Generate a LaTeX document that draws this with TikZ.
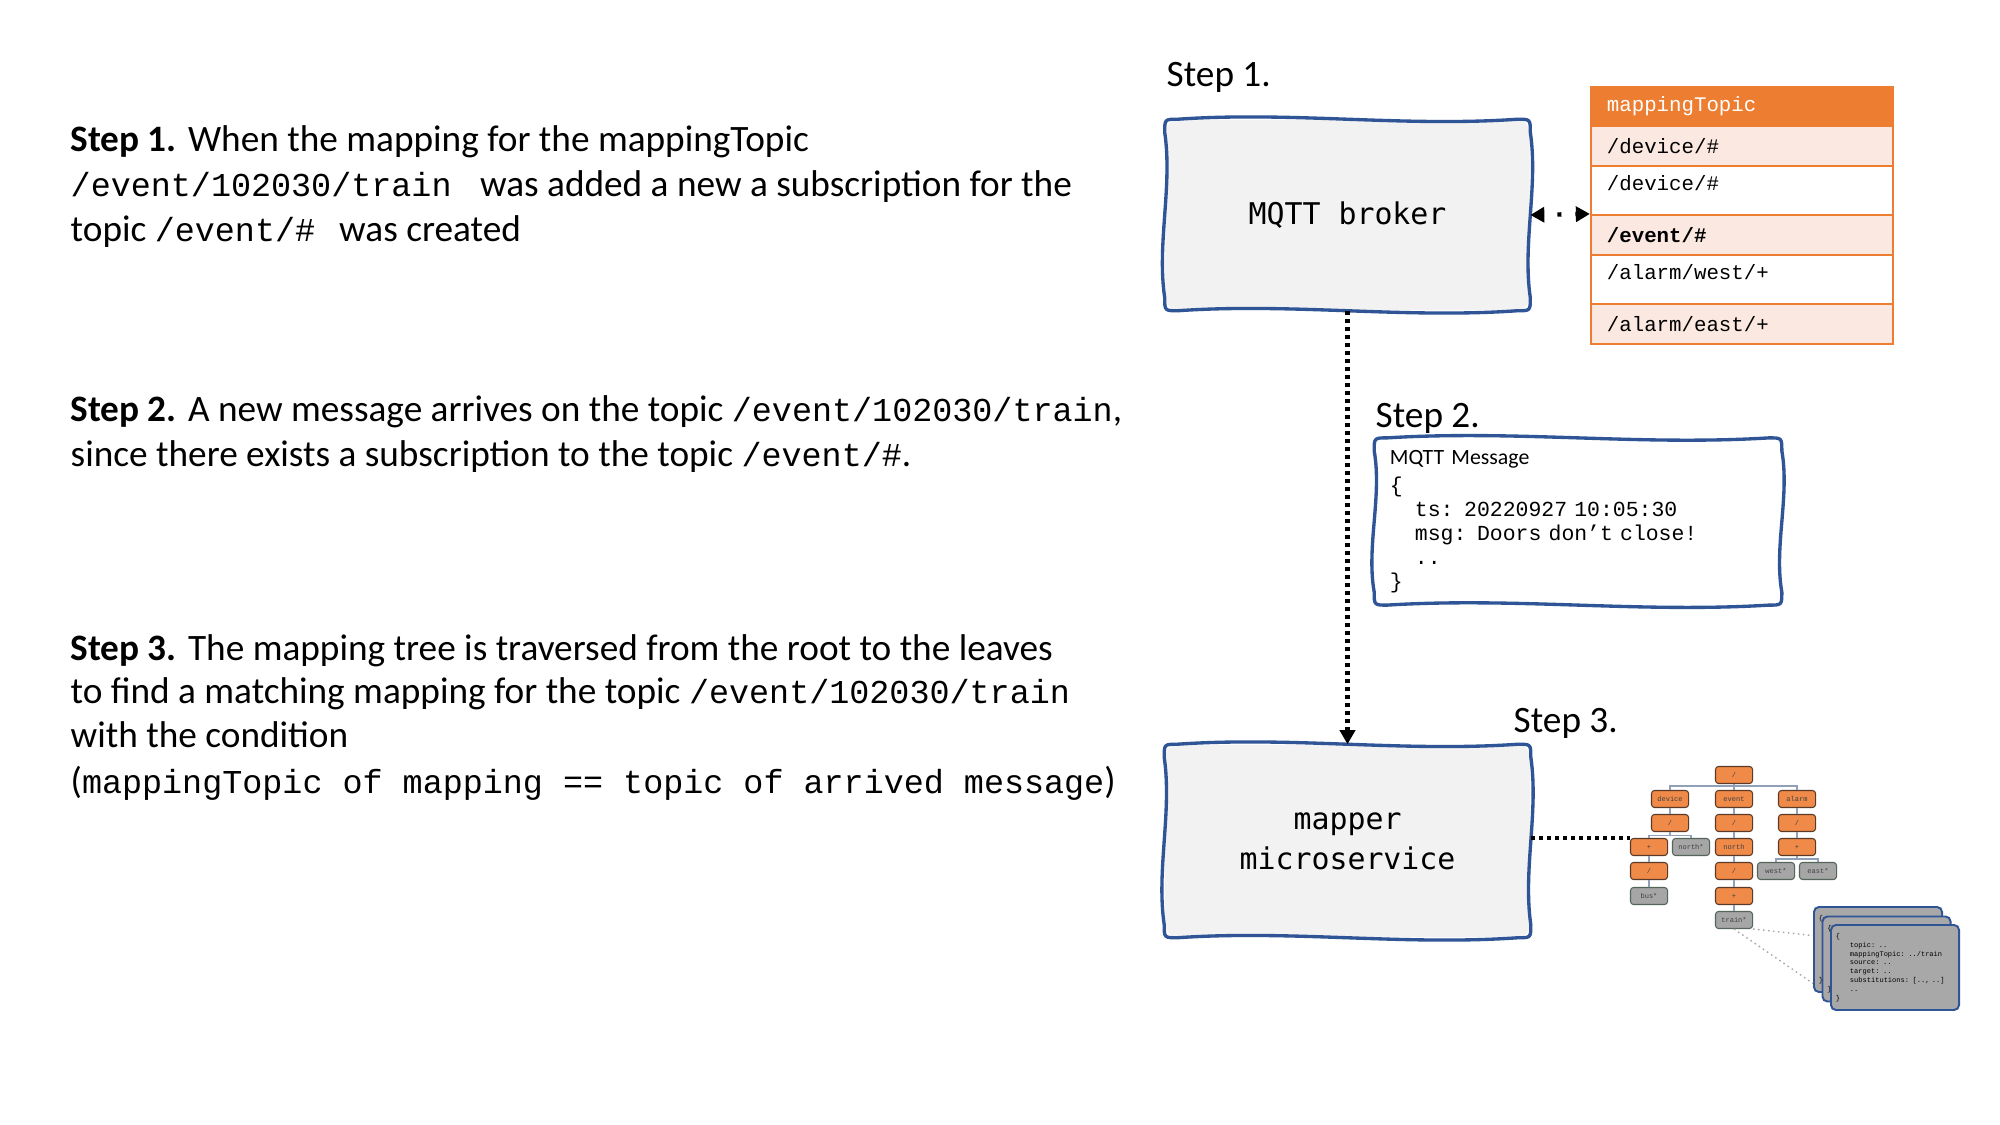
\documentclass[tikz,border=0pt]{standalone}
\usepackage{fontspec}
\setmainfont{Carlito}
\newfontfamily\cour{Liberation Mono}
\newfontfamily\dvm{DejaVu Sans Mono}
\usetikzlibrary{arrows.meta,calc}
\definecolor{skblue}{HTML}{2F5597}
\definecolor{boxgray}{HTML}{F2F2F2}
\definecolor{orng}{HTML}{ED7D31}
\definecolor{pinkrow}{HTML}{FBE8E1}
\definecolor{treeor}{HTML}{F08A48}
\definecolor{treeorb}{HTML}{5A3A28}
\definecolor{treegr}{HTML}{A6A6A6}
\definecolor{treegrb}{HTML}{56655A}
\definecolor{treeline}{HTML}{8FA0B8}
\definecolor{cardgray}{HTML}{A8A8A8}
\newcommand{\mt}[1]{{\cour\fontsize{9.5pt}{12pt}\selectfont #1}}
% hand-drawn border round a named node: #1 node, #2 corner (px), #3 wave (px)
\newcommand{\handrect}[3]{%
 \draw[skline]
  ($(#1.north west)+(#2,0)$)
  .. controls ($(#1.north west)!0.35!(#1.north east)+(0,-#3)$) and ($(#1.north west)!0.65!(#1.north east)+(0,#3)$) .. ($(#1.north east)+(-#2,0)$)
  .. controls (#1.north east) .. ($(#1.north east)+(0,#2)$)
  .. controls ($(#1.north east)!0.35!(#1.south east)+(#3,0)$) and ($(#1.north east)!0.65!(#1.south east)+(-#3,0)$) .. ($(#1.south east)+(0,-#2)$)
  .. controls (#1.south east) .. ($(#1.south east)+(-#2,0)$)
  .. controls ($(#1.south east)!0.35!(#1.south west)+(0,#3)$) and ($(#1.south east)!0.65!(#1.south west)+(0,-#3)$) .. ($(#1.south west)+(#2,0)$)
  .. controls (#1.south west) .. ($(#1.south west)+(0,-#2)$)
  .. controls ($(#1.south west)!0.35!(#1.north west)+(-#3,0)$) and ($(#1.south west)!0.65!(#1.north west)+(#3,0)$) .. ($(#1.north west)+(0,#2)$)
  .. controls (#1.north west) .. ($(#1.north west)+(#2,0)$) -- cycle;}
\begin{document}
\begin{tikzpicture}[x=0.01cm,y=-0.01cm,
  para/.style={anchor=base west, inner sep=0pt, font=\fontsize{10.6pt}{12.8pt}\selectfont},
  steplbl/.style={anchor=base west, inner sep=0pt, font=\fontsize{10.6pt}{12.8pt}\selectfont},
  skline/.style={draw=skblue, line width=0.95pt, line join=round},
  bigbox/.style={fill=boxgray, rounded corners=1.3mm, minimum width=36.4mm, minimum height=19mm,
     align=center, font=\dvm\fontsize{8.5pt}{11.3pt}\selectfont},
  tablerow/.style={draw=orng, line width=0.6pt, minimum width=30.2mm, text width=27mm,
     inner xsep=1.6mm, inner ysep=0pt, align=left, font=\cour\fontsize{5.9pt}{7pt}\selectfont},
  dotarrow/.style={line width=1.25pt, dash pattern=on 0.4mm off 0.4mm},
  tnode/.style={line width=0.3pt, rounded corners=0.3mm, minimum width=3.7mm,
     minimum height=1.7mm, inner sep=0pt, font=\cour\fontsize{2pt}{2.4pt}\selectfont, text=black!75},
  ornode/.style={tnode, draw=treeorb, fill=treeor},
  grnode/.style={tnode, draw=treegrb, fill=treegr},
  tedge/.style={draw=treeline, line width=0.35pt},
  card/.style={fill=cardgray, draw=skblue, line width=0.55pt, rounded corners=0.5mm, minimum width=12.8mm,
     minimum height=8.5mm, inner xsep=0.5mm, inner ysep=0pt, text width=11.8mm, align=left,
     font=\cour\fontsize{2pt}{2.5pt}\selectfont},
  cdot/.style={draw=gray!70, line width=0.4pt, dash pattern=on 0.15mm off 0.35mm}
]
\useasboundingbox (0,0) rectangle (2000,1125);
\fill[white] (0,0) rectangle (2000,1125);

% ---------- left text ----------
\node[para] (s1a) at (70,152) {\textbf{Step 1.} When the mapping for the mappingTopic};
\node[para] (s1b) at (70,197) {\mt{/event/102030/train } was added a new a subscription for the};
\node[para] (s1c) at (70,242) {topic \mt{/event/\# }\kern0.4mm was created};

\node[para] (s2a) at (70,422) {\textbf{Step 2.} A new message arrives on the topic \mt{/event/102030/train},};
\node[para] (s2b) at (70,467) {since there exists a subscription to the topic \mt{/event/\#}.};

\node[para] (s3a) at (70,660) {\textbf{Step 3.} The mapping tree is traversed from the root to the leaves};
\node[para] (s3b) at (70,703) {to find a matching mapping for the topic \mt{/event/102030/train}};
\node[para] (s3c) at (70,748) {with the condition};
\node[para] (s3d) at (70,793) {(\mt{mappingTopic of mapping == topic of arrived message})};

% ---------- step labels ----------
\node[steplbl] (st1) at (1166,87) {Step 1.};
\node[steplbl] (st2) at (1375,428) {Step 2.};
\node[steplbl] (st3) at (1513,732) {Step 3.};

% ---------- boxes ----------
\node[bigbox] (broker) at (1347.5,215) {MQTT broker};
\handrect{broker}{13}{8}
\node[bigbox, minimum width=36.5mm, minimum height=19.2mm] (mapper) at (1347.5,841) {mapper\\microservice};
\handrect{mapper}{13}{8}

\node[fill=white, rounded corners=1.3mm, minimum width=40.6mm, minimum height=15.9mm, text width=37.6mm,
      inner xsep=1.5mm, align=left, font=\cour\fontsize{6.1pt}{6.8pt}\selectfont] (msg) at (1578,521.5)
  {{\rmfamily\fontsize{6.2pt}{6.8pt}\selectfont MQTT Message}\\[1.2pt]
   \{\\
   \hspace*{2.5mm}ts: 20220927 10:05:30\\
   \hspace*{2.5mm}msg: Doors don’t close!\\
   \hspace*{2.5mm}..\\
   \}};
\handrect{msg}{13}{8}

% ---------- table ----------
\node[tablerow, fill=orng, text=white, minimum height=3.9mm] (th) at (1742,106.5) {mappingTopic};
\node[tablerow, fill=pinkrow, minimum height=4mm] (r1) at (1742,146) {/device/\#};
\node[tablerow, fill=white, minimum height=4.9mm, text depth=1.5mm] (r2) at (1742,190.5) {/device/\#};
\node[tablerow, fill=pinkrow, minimum height=4mm] (r3) at (1742,235) {\textbf{/event/\#}};
\node[tablerow, fill=white, minimum height=4.9mm, text depth=1.5mm] (r4) at (1742,279.5) {/alarm/west/+};
\node[tablerow, fill=pinkrow, minimum height=4mm] (r5) at (1742,324) {/alarm/east/+};

% ---------- tree ----------
\node[ornode] (root) at (1734,775) {/};
\node[ornode] (dev) at (1670,799) {device};
\node[ornode] (evt) at (1734,799) {event};
\node[ornode] (alm) at (1797,799) {alarm};
\node[ornode] (dsl) at (1670,823) {/};
\node[ornode] (esl) at (1734,823) {/};
\node[ornode] (asl) at (1797,823) {/};
\node[ornode] (dplus) at (1649,847) {+};
\node[grnode] (dnorth) at (1691,847) {north*};
\node[ornode] (enorth) at (1734,847) {north};
\node[ornode] (aplus) at (1797,847) {+};
\node[ornode] (dsl2) at (1649,871) {/};
\node[ornode] (esl2) at (1734,871) {/};
\node[grnode] (west) at (1776,871) {west*};
\node[grnode] (east) at (1818,871) {east*};
\node[grnode] (bus) at (1649,896) {bus*};
\node[ornode] (eplus) at (1734,896) {+};
\node[grnode] (train) at (1734,920) {train*};

\draw[tedge] (root.south) -- ++(0,2) -| (dev.north);
\draw[tedge] (root.south) -- ++(0,2) -| (alm.north);
\draw[tedge] (root.south) -- (evt.north);
\draw[tedge] (dev) -- (dsl);
\draw[tedge] (evt) -- (esl);
\draw[tedge] (alm) -- (asl);
\draw[tedge] (dsl.south) -- ++(0,3.5) -| (dplus.north);
\draw[tedge] (dsl.south) -- ++(0,3.5) -| (dnorth.north);
\draw[tedge] (esl) -- (enorth);
\draw[tedge] (asl) -- (aplus);
\draw[tedge] (aplus.south) -- ++(0,3) -| (west.north);
\draw[tedge] (aplus.south) -- ++(0,3) -| (east.north);
\draw[tedge] (dplus) -- (dsl2);
\draw[tedge] (dsl2) -- (bus);
\draw[tedge] (enorth) -- (esl2);
\draw[tedge] (esl2) -- (eplus);
\draw[tedge] (eplus) -- (train);

% ---------- cards ----------
\node[card] (card1) at (1878,949.5) {\{\\[15pt]\}};
\node[card] (card2) at (1886.5,959) {\{\\[15pt]\}};
\node[card] (card3) at (1895,967.5) {\{\\ \hspace*{1.4mm}topic: ..\\ \hspace*{1.4mm}mappingTopic: ../train\\ \hspace*{1.4mm}source: ..\\ \hspace*{1.4mm}target: ..\\ \hspace*{1.4mm}substitutions: [.., ..]\\ \hspace*{1.4mm}..\\ \}};

\draw[cdot] (train.south east) -- ($(card1.north west)!0.34!(card1.south west)$);
\draw[cdot] (train.south) -- ($(card1.north west)!0.89!(card1.south west)$);

% ---------- connectors ----------
\draw[dotarrow, -{Triangle[length=1.4mm,width=1.5mm]}] (broker.south) -- (mapper.north);
\draw[dotarrow] (mapper.east |- dplus.north west) -- (dplus.north west);
\draw[line width=1.25pt, dash pattern=on 0.4mm off 1.4mm, dash phase=-1.4mm,
      {Triangle[length=1.4mm,width=1.5mm]}-{Triangle[length=1.4mm,width=1.5mm]}]
      (broker.east) -- (r3.north west);
\end{tikzpicture}
\end{document}
